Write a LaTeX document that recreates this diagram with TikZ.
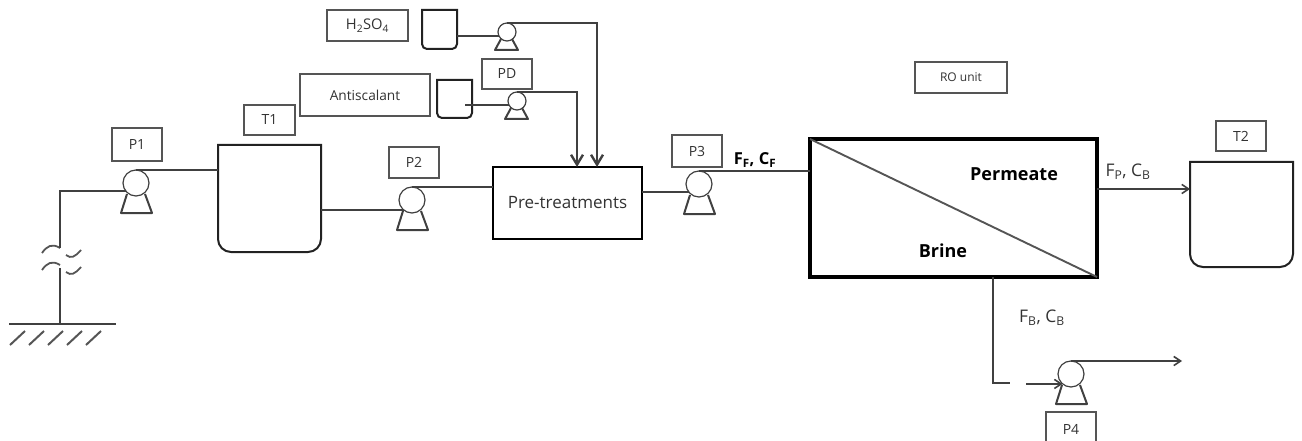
\documentclass[tikz,border=0pt]{standalone}
\usepackage{fontspec}
\setmainfont{Open Sans}
\usetikzlibrary{arrows.meta,calc}
\definecolor{cLine} {HTML}{222222}
\definecolor{cPipe} {HTML}{404040}
\definecolor{cFrame}{HTML}{555555}
\definecolor{cText} {HTML}{333333}
\begin{document}
\begin{tikzpicture}[
  x=1pt, y=-1pt,
  font=\fontsize{14}{16}\selectfont, text=cText,
  tag/.style={
    draw=cFrame, line width=1.3pt, fill=white, inner sep=0pt, outer sep=0pt, align=center},
  pump/.style={circle, draw=cPipe, line width=1.2pt, fill=white, inner sep=0pt, outer sep=0pt},
  foot/.style={draw=cPipe, line width=2pt, line join=round},
  tankbody/.style={inner sep=0pt, outer sep=0pt},
  tankline/.style={draw=cLine, line width=2pt},
  pipe/.style={draw=cPipe, line width=1.6pt},
  feed/.style={pipe, line width=2.4pt, -{Straight Barb[length=3.5mm,width=4.2mm,line width=2.4pt]}},
  ar/.style={pipe, -{Straight Barb[length=2.4mm,width=3.2mm]}},
  note/.style={inner sep=0pt, font=\fontsize{17.4}{19}\selectfont},
  heavy/.style={inner sep=0pt, font=\fontsize{18}{20}\bfseries\selectfont, text=black},
]
\useasboundingbox (0,0) rectangle (1302,441);

% ---------------------------------------------------------------- tanks
\foreach \tname/\cx/\cy/\tw/\th/\tr in {t1/269.5/198.5/103/107/13, t2/1241.5/214.5/103/105/13,
    acid/439.5/29.5/35/39/5, anti/454.5/99/35/38/5}{
  \node[tankbody, minimum width=\tw pt, minimum height=\th pt] (\tname) at (\cx,\cy) {};
  \draw[tankline] (\tname.north west) [rounded corners=\tr pt] -- (\tname.south west)
    -- (\tname.south east) [sharp corners] -- (\tname.north east) -- cycle;
}

% ---------------------------------------------------------------- pumps
\foreach \pname/\px/\py in {p1/136/183, p2/412/200, p3/699/184, p4/1071/374}{
  \node[pump, minimum size=26pt] (\pname) at (\px,\py) {};
  \draw[foot] (\px,\py) ++(-9,11) -- ++(-6,19) -- ++(31,0) -- ++(-7,-19);
}
\foreach \pname/\px/\py in {pacid/507/32, panti/517/101}{
  \node[pump, minimum size=18pt] (\pname) at (\px,\py) {};
  \draw[foot] (\px,\py) ++(-6,7) -- ++(-6,11) -- ++(23,0) -- ++(-6,-11);
}

% ---------------------------------------------------------------- boxes
\node[tag, line width=2.2pt, draw=black, minimum width=149pt, minimum height=72pt] (pre) at (567.5,203)
  {\fontsize{17}{19}\selectfont Pre-treatments};
\node[draw=black, line width=3.8pt, inner sep=0pt, outer sep=0pt, minimum width=287pt, minimum height=138pt] (ro) at (953.5,208) {};
\draw[cFrame, line width=1.9pt] (ro.north west) -- (ro.south east);

% ---------------------------------------------------------------- labels
\node[tag, minimum width=50pt, minimum height=33pt] (lp1) at (137,144.5) {P1};
\node[tag, minimum width=51pt, minimum height=30pt] (lt1) at (269.5,120) {T1};
\node[tag, minimum width=50pt, minimum height=31pt] (lp2) at (414,162.5) {P2};
\node[tag, minimum width=50pt, minimum height=32pt] (lp3) at (697,151) {P3};
\node[tag, minimum width=50pt, minimum height=34pt] (lp4) at (1071,429) {P4};
\node[tag, minimum width=50pt, minimum height=30pt] (lt2) at (1241,136) {T2};
\node[tag, minimum width=50pt, minimum height=30pt] (lpd) at (507,74) {PD};
\node[tag, minimum width=81pt, minimum height=31pt, font=\fontsize{14.7}{16}\selectfont] (lacid) at (367.5,25.5) {H\textsubscript{2}SO\textsubscript{4}};
\node[tag, minimum width=130pt, minimum height=42pt, font=\fontsize{13.7}{15}\selectfont] (lanti) at (365,95) {Antiscalant};
\node[tag, minimum width=92pt, minimum height=31pt, font=\fontsize{12}{14}\selectfont] (lro) at (961,77.5) {RO unit};

\node[heavy, font=\fontsize{16.5}{18}\bfseries\selectfont] (lfeed) at (755,160) {F\textsubscript{F}, C\textsubscript{F}};
\node[heavy] (lperm) at (1014,174) {Permeate};
\node[heavy] (lbrine) at (943,251) {Brine};
\node[note] (lprod) at (1128,172) {F\textsubscript{P}, C\textsubscript{B}};
\node[note] (lrej) at (1042,318) {F\textsubscript{B}, C\textsubscript{B}};

% ---------------------------------------------------------------- ground and well
\coordinate (bedtop) at (60,324);
\coordinate (cuttop) at (60,248);
\coordinate (cutlow) at (60,268);
\coordinate (bedleft) at (9,324);
\coordinate (bedright) at (116,324);
\draw[pipe] (bedleft) -- (bedright);
\foreach \hx in {10,29,48,67,86}
  \draw[cFrame, line width=2pt] (\hx,345) -- ++(15,-14);
\foreach \wy in {0,17}
  \draw[cFrame, line width=1.8pt] (42,253+\wy) .. controls (47,246+\wy) and (52,243+\wy) .. (60,248+\wy)
    (66,255+\wy) .. controls (71,259+\wy) and (75,257+\wy) .. (81,250+\wy);
\draw[pipe, line width=2pt] (bedtop) -- (cutlow);
\draw[pipe, line width=2pt] (p1.218) -- (p1.218 -| cuttop) -- (cuttop);

% ---------------------------------------------------------------- pipes
\draw[pipe] (p1.north) -- (t1.west |- p1.north);
\draw[pipe] (t1.east |- p2.230) -- (p2.230);
\draw[pipe] (p2.north) -- (pre.west |- p2.north);
\draw[pipe] (pre.east |- p3.218) -- (p3.218);
\draw[pipe] (p3.north) -- (ro.west |- p3.north);
\draw[pipe] (acid.east |- pacid.205) -- (pacid.205);
\draw[pipe] ([xshift=-7pt]anti.east |- panti.205) -- (panti.205);
\draw[feed] (panti.north) -| ([xshift=84pt]pre.north west);
\draw[feed] (pacid.north) -| ([xshift=104pt]pre.north west);
\draw[ar] ([yshift=19pt]ro.east) -- ([yshift=19pt]ro.east -| t2.west);

% brine line has a gap before P4
\coordinate (brineturn) at (993,383);
\coordinate (brinegap) at (1010,383);
\coordinate (brinein) at (1026,384);
\coordinate (brineout) at (1182,361);
\draw[pipe, line width=2.2pt] (ro.south -| brineturn) -- (brineturn) -- (brinegap);
\draw[ar] (brinein) -- (p4.230);
\draw[ar] (p4.north) -- (brineout);
\end{tikzpicture}
\end{document}
